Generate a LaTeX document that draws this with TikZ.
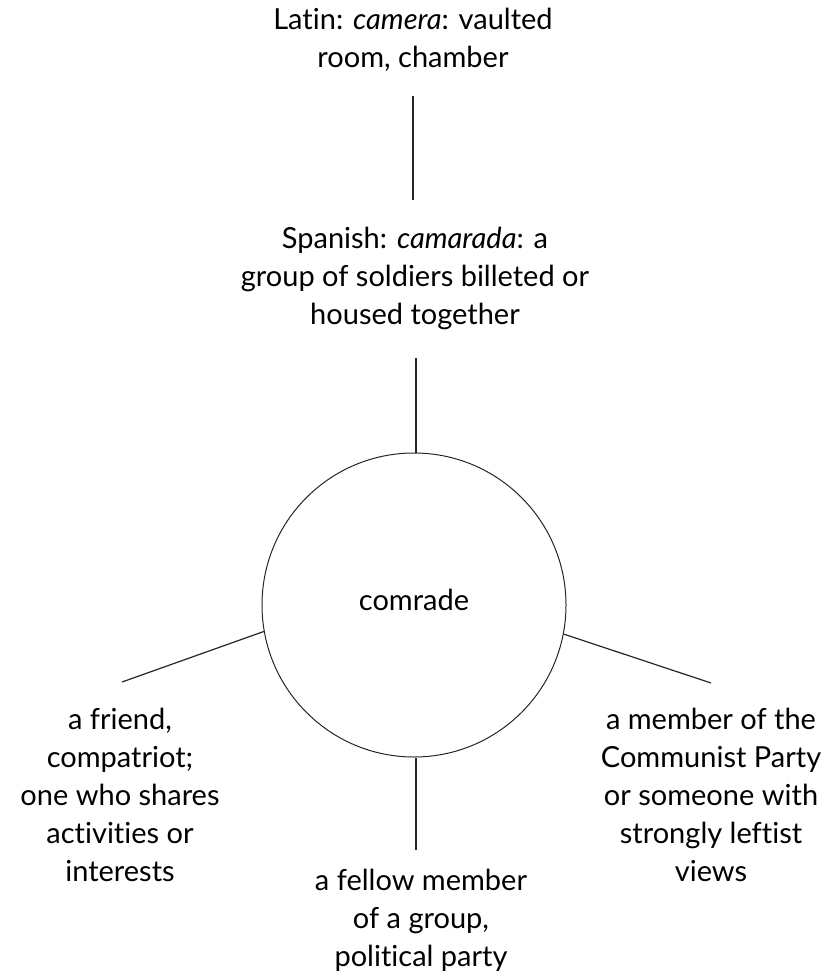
\documentclass[tikz,border=0pt]{standalone}
\usepackage{fontspec}
\setmainfont{Lato}[Ligatures=NoCommon]
\usetikzlibrary{positioning, calc}

\begin{document}
\begin{tikzpicture}[
        x=0.5pt, y=-0.5pt,
        wordtext/.style={align=center, font=\fontsize{14.5}{19}\selectfont, inner sep=0pt},
        rootcircle/.style={circle, draw=black!85, line width=0.5pt, minimum size=152pt, inner sep=0pt},
        link/.style={draw=black!85, line width=0.6pt},
    ]
        \useasboundingbox (0,0) rectangle (838,978);

        % Origins (top)
        \node[wordtext] (latin) at (413,40) {Latin: \textit{camera}: vaulted\\room, chamber};
        \node[wordtext] (spanish) at (415,278) {Spanish: \textit{camarada}: a\\group of soldiers billeted or\\housed together};

        % Word
        \node[rootcircle] (comrade) at (414,605) {};
        \node[wordtext] (word) at (414,600) {comrade};

        % Meanings
        \node[wordtext] (friend) at (120,795) {a friend,\\compatriot;\\one who shares\\activities or\\interests};
        \node[wordtext] (fellow) at (421,920) {a fellow member\\of a group,\\political party};
        \node[wordtext] (member) at (711,795) {a member of the\\Communist Party\\or someone with\\strongly leftist\\views};

        \coordinate (friendend) at (122,682);
        \coordinate (memberend) at (711,683);
        \coordinate (spanishfoot) at (416,358);
        \coordinate (fellowtop) at (416,850);

        % Links
        \draw[link] (latin.south |- 0,96) -- (latin.south |- 0,200);
        \draw[link] (spanishfoot) -- (comrade.north -| spanishfoot);
        \draw[link] (comrade.190.8) -- (friendend);
        \draw[link] (comrade.south -| fellowtop) -- (fellowtop);
        \draw[link] (comrade.349.2) -- (memberend);
    \end{tikzpicture}
\end{document}
